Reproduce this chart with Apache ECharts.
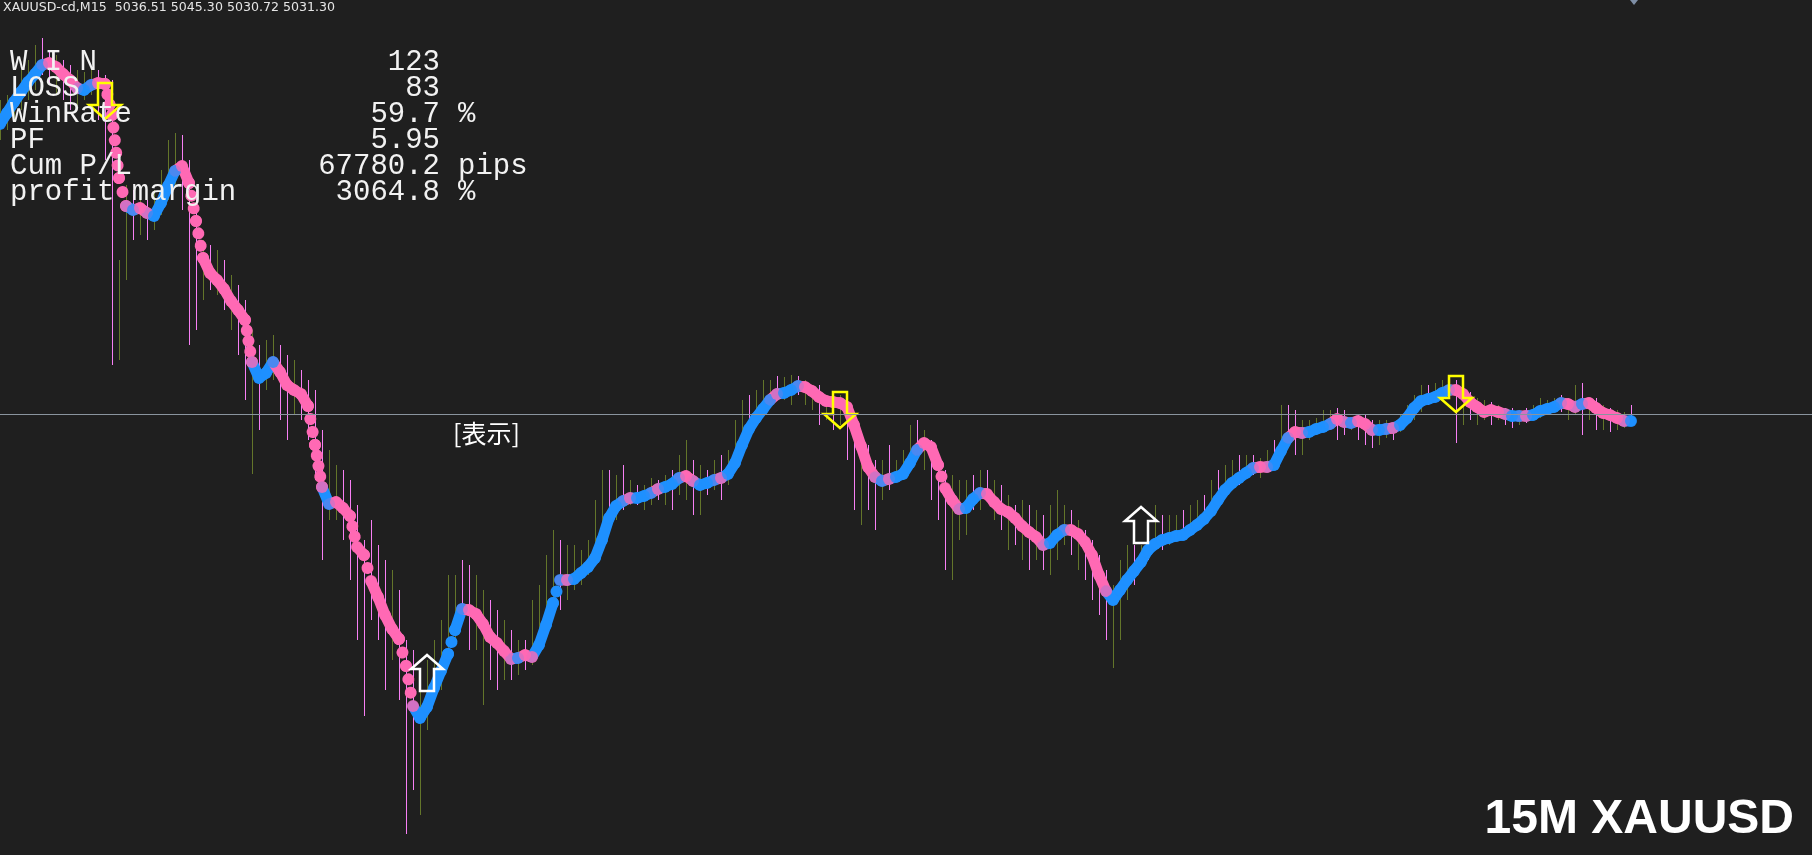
<!DOCTYPE html>
<html>
<head>
<meta charset="utf-8">
<script src="https://cdn.jsdelivr.net/npm/echarts@6/dist/echarts.min.js"></script>
<style>
html,body{margin:0;padding:0;background:#1f1f1f;overflow:hidden;}
#chart{width:1812px;height:855px;}
</style>
</head>
<body>
<div id="chart"></div>
<script>
// ---------- DATA ----------
const symbolTitle = 'XAUUSD-cd,M15  5036.51 5045.30 5030.72 5031.30';
const watermark = '15M XAUUSD';
const panelLabel = '[表示]';
const priceLine = 5031.3;

const statLabels = ['W I N', 'LOSS', 'WinRate', 'PF', 'Cum P/L', 'profit margin'];
const statValues = ['123', '83', '59.7', '5.95', '67780.2', '3064.8'];
const statUnits  = ['', '', '%', '', 'pips', '%'];

// trend indicator value per bar
const trend = [
 5322,5333,5344,5354,5364,5372,5381,5383,5379,5372,
 5366,5358,5356,5361,5363,5362,5331,5268,5240,5236,
 5238,5233,5230,5243,5260,5275,5280,5263,5225,5188,
 5173,5166,5157,5145,5136,5126,5084,5068,5073,5084,
 5074,5061,5056,5052,5040,5001,4959,4942,4944,4938,
 4930,4899,4891,4865,4849,4831,4817,4807,4780,4740,
 4728,4739,4758,4775,4792,4816,4837,4836,4832,4822,
 4809,4803,4795,4787,4788,4791,4789,4801,4821,4843,
 4866,4866,4867,4873,4879,4888,4906,4928,4940,4945,
 4948,4948,4950,4953,4957,4959,4962,4968,4970,4965,
 4961,4963,4966,4968,4972,4983,5001,5017,5028,5037,
 5046,5052,5053,5056,5060,5059,5055,5049,5045,5044,
 5043,5039,5021,5000,4979,4969,4965,4967,4969,4972,
 4983,4996,5003,4999,4981,4958,4946,4937,4938,4947,
 4953,4952,4944,4937,4934,4928,4920,4914,4909,4901,
 4903,4911,4916,4916,4912,4904,4891,4871,4855,4846,
 4856,4866,4875,4884,4896,4902,4906,4908,4910,4911,
 4916,4921,4927,4935,4946,4956,4963,4968,4973,4978,
 4979,4979,4981,4995,5008,5014,5013,5014,5017,5019,
 5022,5027,5024,5023,5025,5022,5016,5016,5017,5018,
 5021,5028,5038,5045,5047,5049,5053,5056,5056,5052,
 5044,5039,5034,5036,5034,5032,5030,5030,5030,5031,
 5035,5037,5039,5043,5042,5039,5042,5043,5038,5033,
 5031,5028,5025,5025
];

// trend state runs: u = rising (blue), d = falling (pink)
const trendSideRuns = [
 ['u',7],['d',5],['u',2],['d',5],['u',1],['d',2],['u',4],['d',11],['u',3],['d',7],
 ['u',1],['d',12],['u',7],['d',7],['u',1],['d',2],['u',4],['d',1],['u',8],['d',1],
 ['u',3],['d',1],['u',3],['d',2],['u',3],['d',1],['u',7],['d',1],['u',3],['d',11],
 ['u',1],['d',1],['u',4],['d',6],['u',3],['d',9],['u',3],['d',6],['u',21],['d',2],
 ['u',3],['d',2],['u',4],['d',2],['u',1],['d',3],['u',2],['d',1],['u',8],['d',8],
 ['u',2],['d',1],['u',5],['d',2],['u',1],['d',6],['u',1]
];

const highs = [
 5346,5351,5361,5376,5386,5401,5408,5396,5391,5386,
 5381,5376,5374,5378,5376,5371,5366,5186,5261,5256,
 5251,5246,5256,5276,5306,5313,5311,5286,5256,5206,
 5201,5196,5186,5171,5161,5146,5116,5101,5106,5111,
 5101,5091,5086,5076,5066,5056,5016,4996,4981,4976,
 4966,4941,4906,4926,4901,4886,4876,4856,4806,4796,
 4756,4786,4806,4826,4871,4871,4886,4881,4871,4856,
 4846,4836,4826,4816,4806,4806,4846,4861,4891,4916,
 4906,4901,4901,4896,4906,4946,4976,4976,4971,4981,
 4966,4961,4961,4968,4966,4971,4976,4991,5006,4986,
 4981,4976,4986,4991,4996,5026,5046,5051,5056,5066,
 5066,5070,5069,5071,5070,5066,5061,5061,5051,5046,
 5051,5046,5026,5006,5001,4986,4986,5001,4986,4996,
 5021,5026,5016,5006,4991,4976,4971,4966,4966,4971,
 4976,4976,4966,4961,4951,4941,4946,4941,4936,4931,
 4941,4956,4941,4936,4926,4916,4906,4891,4876,4861,
 4886,4901,4901,4901,4916,4941,4931,4931,4931,4936,
 4941,4946,4951,4966,4976,4981,4986,4991,4991,4991,
 4988,4996,5006,5041,5041,5036,5026,5026,5028,5036,
 5036,5038,5036,5028,5031,5031,5026,5026,5026,5024,
 5031,5041,5051,5061,5061,5063,5066,5069,5066,5066,
 5054,5048,5046,5044,5041,5038,5038,5036,5038,5041,
 5048,5046,5048,5051,5048,5061,5063,5046,5048,5041,
 5038,5036,5034,5041
];

const lows = [
 5306,5316,5326,5336,5346,5356,5371,5361,5351,5346,
 5336,5341,5346,5351,5326,5286,5081,5086,5166,5206,
 5211,5206,5216,5231,5246,5261,5236,5101,5116,5146,
 5156,5151,5136,5116,5091,5046,4972,5016,5056,5066,
 5026,5006,5031,5026,5006,4966,4886,4926,4926,4906,
 4866,4806,4730,4826,4806,4756,4786,4746,4612,4656,
 4631,4716,4746,4756,4786,4801,4826,4796,4796,4741,
 4766,4756,4766,4766,4771,4776,4781,4796,4826,4846,
 4836,4846,4856,4861,4871,4886,4901,4916,4926,4936,
 4941,4941,4936,4941,4946,4941,4936,4951,4946,4931,
 4931,4951,4956,4946,4961,4976,4991,5016,5026,5036,
 5046,5046,5046,5041,5051,5041,5036,5021,5026,5016,
 5021,4986,4936,4921,4936,4916,4946,4956,4966,4966,
 4981,4986,4976,4946,4926,4876,4866,4906,4911,4936,
 4936,4946,4926,4916,4896,4901,4886,4876,4886,4876,
 4871,4886,4901,4891,4876,4866,4846,4831,4806,4778,
 4806,4846,4861,4876,4886,4901,4896,4901,4906,4906,
 4911,4916,4921,4931,4941,4951,4956,4961,4968,4971,
 4968,4976,4981,4991,5001,4991,4991,5006,5011,5014,
 5016,5006,5011,5016,5006,5001,4998,5001,5008,5006,
 5014,5021,5026,5034,5041,5046,5048,5048,5003,5021,
 5026,5021,5026,5021,5026,5021,5018,5021,5023,5026,
 5028,5031,5034,5034,5026,5031,5011,5026,5016,5016,
 5014,5016,5018,5026
];

// candle direction per bar: u = bullish, d = bearish
const candleDir = (
 'u u u u u u d d u d  d u u u d d d u u d  u d u u u u d d d u  d u d u d d u d u u ' +
 'd d u d d d d u u d  d d d d d d u d d d  u u u u u u d d u u  d d u d u d u u u u ' +
 'd u u u u u u d u d  u d u u d u d u u d  u d u d u u u d u u  u d u u d u u d u d ' +
 'u d d u d d u d u u  u d u d d d u u u d  u d u d u d u d u d  u u u d u d d d d u ' +
 'u u d u d u d u u d  u u d u d u u d u d  u u d u d d u u u u  u d d u d d d u u d ' +
 'u u u u d u u u d u  d u u d u d d u d u  u u u d u u d u d u  d u u d'
).trim().split(/\s+/);

// signal arrows: [bar index, tip price]
const sellSignals = [[15, 5327], [120, 5018], [208, 5034]];
const buySignals  = [[61, 4791], [163, 4939]];

// ---------- BUILD ----------
const BLUE = '#1e90ff', PINK = '#ff69b4';
const BULL = '#63752a', BEAR = '#f77ff4';
const DOT = 12;

const trendSide = [];
trendSideRuns.forEach(r => { for (let k = 0; k < r[1]; k++) trendSide.push(r[0]); });

const dotData = trend.map((v, i) => ({
  value: [i, v],
  itemStyle: { color: trendSide[i] === 'd' ? PINK : BLUE }
}));
// consecutive pairs: the trend is drawn as a thick round-dotted line between bars
const segData = [];
for (let i = 0; i < trend.length - 1; i++) {
  segData.push([i, trend[i], i + 1, trend[i + 1], trendSide[i + 1] === 'd' ? 0 : 1]);
}
const candleData = highs.map((h, i) => [i, h, lows[i], candleDir[i] === 'u' ? 1 : 0]);

const ARROW = [[0,0],[-16,-14],[-7,-14],[-7,-36],[7,-36],[7,-14],[16,-14]];
function arrowRenderer(color, s) {
  return function (params, api) {
    const p = api.coord([api.value(0), api.value(1)]);
    return {
      type: 'polygon',
      shape: { points: ARROW.map(q => [p[0] + q[0], p[1] + s * q[1]]) },
      style: { fill: 'none', stroke: color, lineWidth: 2.5 }
    };
  };
}

const chart = echarts.init(document.getElementById('chart'), null, { renderer: 'canvas' });

const graphics = [
  { type: 'text', x: 3, y: 1, style: { text: symbolTitle, fill: '#e6e6e6', font: '12.6px "DejaVu Sans"', verticalAlign: 'top' } },
  { type: 'text', x: 453, y: 433, style: { text: panelLabel, fill: '#ffffff', font: '25px "Noto Sans CJK JP"', verticalAlign: 'middle' } },
  { type: 'text', x: 1794, y: 820, style: { text: watermark, fill: '#ffffff', font: 'bold 48px "Liberation Sans"', align: 'right', verticalAlign: 'middle' } },
  { type: 'polygon', shape: { points: [[1630,0],[1638,0],[1634,5]] }, style: { fill: '#7f8fa6' } }
];
statLabels.forEach((t, k) => {
  const y = 62 + 26 * k;
  const f = '29px "Liberation Mono"';
  graphics.push({ type: 'text', x: 10, y: y, z: 100, style: { text: t, fill: '#f2f2f2', font: f, verticalAlign: 'middle' } });
  graphics.push({ type: 'text', x: 440, y: y, z: 100, style: { text: statValues[k], fill: '#f2f2f2', font: f, align: 'right', verticalAlign: 'middle' } });
  if (statUnits[k]) graphics.push({ type: 'text', x: 458, y: y, z: 100, style: { text: statUnits[k], fill: '#f2f2f2', font: f, verticalAlign: 'middle' } });
});

chart.setOption({
  backgroundColor: '#1f1f1f',
  animation: false,
  grid: { left: 0, right: 0, top: 0, bottom: 0 },
  xAxis: { type: 'value', min: 0, max: 1812 / 7, show: false },
  yAxis: { type: 'value', min: 4591, max: 5446, show: false, scale: true },
  series: [
    {
      type: 'custom',
      name: 'candles',
      z: 1,
      data: candleData,
      renderItem: function (params, api) {
        const top = api.coord([api.value(0), api.value(1)]);
        const bot = api.coord([api.value(0), api.value(2)]);
        return {
          type: 'rect',
          shape: { x: Math.round(top[0]), y: Math.round(top[1]), width: 1, height: Math.max(1, Math.round(bot[1] - top[1])) },
          style: { fill: api.value(3) ? BULL : BEAR }
        };
      },
      markLine: {
        silent: true, symbol: 'none', label: { show: false },
        lineStyle: { color: '#8a949e', width: 1, type: 'solid' },
        data: [{ yAxis: priceLine }]
      }
    },
    {
      type: 'custom',
      name: 'trendJoin',
      z: 2,
      data: segData,
      renderItem: function (params, api) {
        const a = api.coord([api.value(0), api.value(1)]);
        const b = api.coord([api.value(2), api.value(3)]);
        const len = Math.hypot(b[0] - a[0], b[1] - a[1]);
        const steep = Math.abs(b[1] - a[1]) > 22;
        const style = { stroke: api.value(4) ? BLUE : PINK, lineWidth: steep ? DOT : DOT - 1, lineCap: 'round' };
        if (steep) {
          const n = Math.max(1, Math.round(len / 12));
          style.lineDash = [0.01, len / n - 0.01];
        }
        return { type: 'line', shape: { x1: a[0], y1: a[1], x2: b[0], y2: b[1] }, style: style };
      }
    },
    {
      type: 'scatter',
      name: 'trend',
      z: 3,
      symbol: 'circle',
      symbolSize: DOT,
      data: dotData
    },
    { type: 'custom', name: 'sell', z: 4, data: sellSignals, renderItem: arrowRenderer('#ffff00', 1) },
    { type: 'custom', name: 'buy', z: 4, data: buySignals, renderItem: arrowRenderer('#ffffff', -1) }
  ],
  graphic: graphics
});
</script>
</body>
</html>
